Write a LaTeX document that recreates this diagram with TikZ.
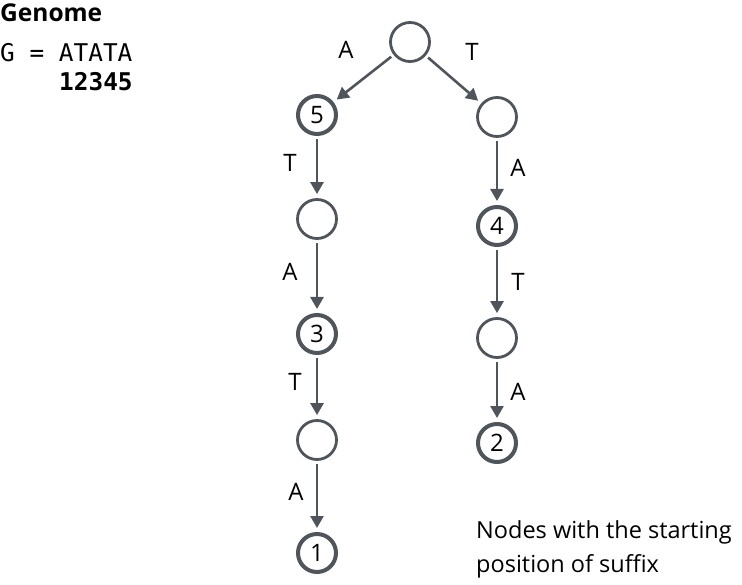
\documentclass[tikz,border=0pt]{standalone}
\usepackage{fontspec}
\setmainfont{Open Sans}
\newfontfamily\monof{DejaVu Sans Mono}
\usetikzlibrary{arrows.meta}
\definecolor{lc}{HTML}{50555C}
\begin{document}
\begin{tikzpicture}[x=1pt,y=-1pt,
  plain/.style={circle,draw=lc,line width=2.8pt,minimum size=39pt,inner sep=0pt},
  term/.style={circle,draw=lc,line width=4pt,minimum size=38pt,inner sep=0pt,font=\fontsize{24}{28}\selectfont},
  edge/.style={draw=lc,line width=2.6pt,-{Triangle[length=12pt,width=13pt]},shorten <=3pt,shorten >=4pt},
  lab/.style={font=\fontsize{24}{28}\selectfont}]
\useasboundingbox (0,0) rectangle (742,585);
\node[anchor=west,font=\bfseries\fontsize{24.5}{28}\selectfont,inner sep=0pt] (gen) at (0,13) {Genome};
\node[anchor=base west,font=\monof\fontsize{24.4}{28}\selectfont,inner sep=0pt] (g) at (0,62) {G = ATATA};
\node[anchor=base west,font=\monof\bfseries\fontsize{24.4}{28}\selectfont,inner sep=0pt] (num) at (59,91) {12345};
\node[plain] (r) at (410,42) {};
\node[term] (n5) at (317,115) {5};
\node[plain] (l2) at (317,219) {};
\node[term] (n3) at (317,334) {3};
\node[plain] (l4) at (317,440) {};
\node[term] (n1) at (317,553) {1};
\node[plain] (r1) at (497,117) {};
\node[term] (n4) at (497,226) {4};
\node[plain] (r3) at (497,338) {};
\node[term] (n2) at (497,443) {2};
\draw[edge] (r) -- (n5);
\draw[edge] (r) -- (r1);
\draw[edge] (n5) -- (l2);
\draw[edge] (l2) -- (n3);
\draw[edge] (n3) -- (l4);
\draw[edge] (l4) -- (n1);
\draw[edge] (r1) -- (n4);
\draw[edge] (n4) -- (r3);
\draw[edge] (r3) -- (n2);
\node[lab] (la1) at (346,50) {A};
\node[lab] (lt1) at (472,52) {T};
\node[lab] (lt2) at (290,163) {T};
\node[lab] (la2) at (290,272) {A};
\node[lab] (lt3) at (295,382) {T};
\node[lab] (la3) at (296,492) {A};
\node[lab] (la4) at (518,168) {A};
\node[lab] (lt4) at (518,282) {T};
\node[lab] (la5) at (518,392) {A};
\node[anchor=base west,align=left,font=\fontsize{23.5}{34}\selectfont,inner sep=0pt] (note) at (476,572) {Nodes with the starting\\position of suffix};
\end{tikzpicture}
\end{document}
